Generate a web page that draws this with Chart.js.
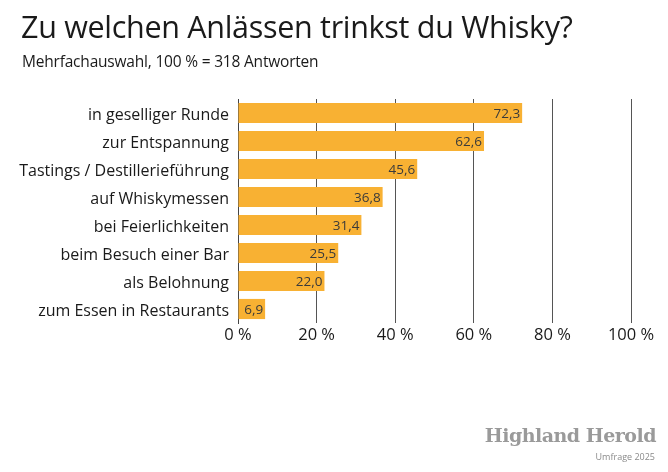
<!DOCTYPE html>
<html>
<head>
<meta charset="utf-8">
<script src="https://cdn.jsdelivr.net/npm/chart.js@4"></script>
<style>
  body { margin: 0; background: #fff; }
  #wrap { position: relative; width: 668px; height: 472px; font-family: "Open Sans", sans-serif; color: #1a1a1a; }
  #chart { position: absolute; left: 0; top: 0; }
  .title { position: absolute; left: 21px; top: 5px; font-size: 30.5px; white-space: nowrap; letter-spacing: -0.3px; }
  .sub { position: absolute; left: 22px; top: 50px; font-size: 15.5px; white-space: nowrap; letter-spacing: -0.2px; }
  .brand { position: absolute; right: 12px; top: 424px; font-family: "DejaVu Serif", serif; font-weight: bold; font-size: 19px; color: #9a9a9a; white-space: nowrap; letter-spacing: -0.5px; }
  .brand2 { position: absolute; right: 13px; top: 450px; font-size: 9px; color: #8a8a8a; white-space: nowrap; }
</style>
</head>
<body>
<div id="wrap">
  <canvas id="chart" width="668" height="472"></canvas>
  <div class="title">Zu welchen Anlässen trinkst du Whisky?</div>
  <div class="sub">Mehrfachauswahl, 100 % = 318 Antworten</div>
  <div class="brand">Highland Herold</div>
  <div class="brand2">Umfrage 2025</div>
</div>
<script>
const categories = [
  "in geselliger Runde",
  "zur Entspannung",
  "Tastings / Destillerieführung",
  "auf Whiskymessen",
  "bei Feierlichkeiten",
  "beim Besuch einer Bar",
  "als Belohnung",
  "zum Essen in Restaurants"
];
const values = [72.3, 62.6, 45.6, 36.8, 31.4, 25.5, 22.0, 6.9];
const tickValues = [0, 20, 40, 60, 80, 100];

const fontFamily = "'Open Sans', sans-serif";

// value labels inside the bar end
const valueLabels = {
  id: "valueLabels",
  afterDatasetsDraw(chart) {
    const ctx = chart.ctx;
    const meta = chart.getDatasetMeta(0);
    ctx.save();
    ctx.font = "13.5px " + fontFamily;
    ctx.fillStyle = "#3a3a3a";
    ctx.textAlign = "right";
    ctx.textBaseline = "middle";
    meta.data.forEach((bar, i) => {
      const txt = values[i].toFixed(1).replace(".", ",");
      ctx.fillText(txt, bar.x - 2, bar.y + 1);
    });
    ctx.restore();
  }
};

new Chart(document.getElementById("chart").getContext("2d"), {
  type: "bar",
  data: {
    labels: categories,
    datasets: [{
      data: values,
      backgroundColor: "#f8b133",
      borderWidth: 0,
      barPercentage: 0.72,
      categoryPercentage: 1.0
    }]
  },
  options: {
    indexAxis: "y",
    responsive: false,
    animation: false,
    layout: { padding: { top: 99, right: 37, left: 0, bottom: 0 } },
    plugins: {
      legend: { display: false },
      tooltip: { enabled: false }
    },
    scales: {
      x: {
        min: 0,
        max: 100,
        afterFit: (scale) => { scale.height = 149; },
        afterBuildTicks: (scale) => { scale.ticks = tickValues.map(v => ({ value: v })); },
        grid: { color: "#555", lineWidth: 1, drawTicks: false },
        border: { display: false },
        ticks: {
          padding: 2,
          color: "#1a1a1a",
          font: { family: fontFamily, size: 16.5 },
          callback: (v) => v + " %"
        }
      },
      y: {
        afterFit: (scale) => { scale.width = 238; },
        grid: { display: false, drawTicks: false },
        border: { display: true, color: "#444", width: 1 },
        ticks: {
          padding: 9,
          labelOffset: 2,
          color: "#1a1a1a",
          font: { family: fontFamily, size: 16 }
        }
      }
    }
  },
  plugins: [valueLabels]
});
</script>
</body>
</html>
